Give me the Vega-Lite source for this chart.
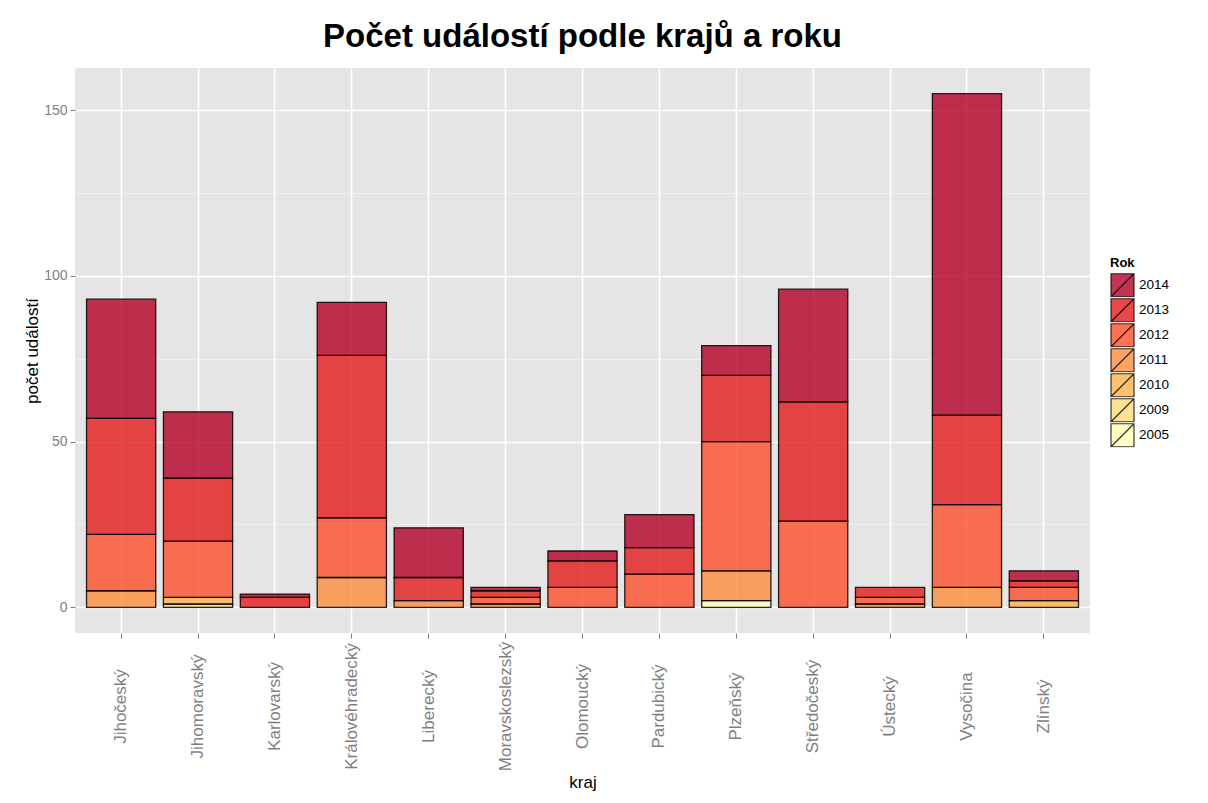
{
  "$schema": "https://vega.github.io/schema/vega-lite/v6.json",
  "width": 1015,
  "height": 565,
  "autosize": "none",
  "padding": {"left": 75, "top": 68, "right": 118, "bottom": 170},
  "background": "white",
  "title": {"text": "Počet událostí podle krajů a roku", "anchor": "middle", "baseline": "alphabetic", "offset": -12, "fontSize": 33, "fontWeight": "bold", "color": "black", "font": "Liberation Sans"},
  "data": {"values": [
    {"kraj": "Jihočeský", "Rok": 2011, "pocet": 5},
    {"kraj": "Jihočeský", "Rok": 2012, "pocet": 17},
    {"kraj": "Jihočeský", "Rok": 2013, "pocet": 35},
    {"kraj": "Jihočeský", "Rok": 2014, "pocet": 36},
    {"kraj": "Jihomoravský", "Rok": 2009, "pocet": 1},
    {"kraj": "Jihomoravský", "Rok": 2010, "pocet": 2},
    {"kraj": "Jihomoravský", "Rok": 2012, "pocet": 17},
    {"kraj": "Jihomoravský", "Rok": 2013, "pocet": 19},
    {"kraj": "Jihomoravský", "Rok": 2014, "pocet": 20},
    {"kraj": "Karlovarský", "Rok": 2013, "pocet": 3},
    {"kraj": "Karlovarský", "Rok": 2014, "pocet": 1},
    {"kraj": "Královéhradecký", "Rok": 2011, "pocet": 9},
    {"kraj": "Královéhradecký", "Rok": 2012, "pocet": 18},
    {"kraj": "Královéhradecký", "Rok": 2013, "pocet": 49},
    {"kraj": "Královéhradecký", "Rok": 2014, "pocet": 16},
    {"kraj": "Liberecký", "Rok": 2011, "pocet": 2},
    {"kraj": "Liberecký", "Rok": 2013, "pocet": 7},
    {"kraj": "Liberecký", "Rok": 2014, "pocet": 15},
    {"kraj": "Moravskoslezský", "Rok": 2011, "pocet": 1},
    {"kraj": "Moravskoslezský", "Rok": 2012, "pocet": 2},
    {"kraj": "Moravskoslezský", "Rok": 2013, "pocet": 2},
    {"kraj": "Moravskoslezský", "Rok": 2014, "pocet": 1},
    {"kraj": "Olomoucký", "Rok": 2012, "pocet": 6},
    {"kraj": "Olomoucký", "Rok": 2013, "pocet": 8},
    {"kraj": "Olomoucký", "Rok": 2014, "pocet": 3},
    {"kraj": "Pardubický", "Rok": 2012, "pocet": 10},
    {"kraj": "Pardubický", "Rok": 2013, "pocet": 8},
    {"kraj": "Pardubický", "Rok": 2014, "pocet": 10},
    {"kraj": "Plzeňský", "Rok": 2005, "pocet": 2},
    {"kraj": "Plzeňský", "Rok": 2011, "pocet": 9},
    {"kraj": "Plzeňský", "Rok": 2012, "pocet": 39},
    {"kraj": "Plzeňský", "Rok": 2013, "pocet": 20},
    {"kraj": "Plzeňský", "Rok": 2014, "pocet": 9},
    {"kraj": "Středočeský", "Rok": 2012, "pocet": 26},
    {"kraj": "Středočeský", "Rok": 2013, "pocet": 36},
    {"kraj": "Středočeský", "Rok": 2014, "pocet": 34},
    {"kraj": "Ústecký", "Rok": 2011, "pocet": 1},
    {"kraj": "Ústecký", "Rok": 2012, "pocet": 2},
    {"kraj": "Ústecký", "Rok": 2013, "pocet": 3},
    {"kraj": "Vysočina", "Rok": 2011, "pocet": 6},
    {"kraj": "Vysočina", "Rok": 2012, "pocet": 25},
    {"kraj": "Vysočina", "Rok": 2013, "pocet": 27},
    {"kraj": "Vysočina", "Rok": 2014, "pocet": 97},
    {"kraj": "Zlínský", "Rok": 2010, "pocet": 2},
    {"kraj": "Zlínský", "Rok": 2012, "pocet": 4},
    {"kraj": "Zlínský", "Rok": 2013, "pocet": 2},
    {"kraj": "Zlínský", "Rok": 2014, "pocet": 3}
  ]},
  "mark": {"type": "bar", "stroke": "black", "strokeWidth": 1.3, "strokeOpacity": 0.85, "fillOpacity": 0.8},
  "encoding": {
    "x": {
      "field": "kraj", "type": "nominal",
      "sort": ["Jihočeský", "Jihomoravský", "Karlovarský", "Královéhradecký", "Liberecký", "Moravskoslezský", "Olomoucký", "Pardubický", "Plzeňský", "Středočeský", "Ústecký", "Vysočina", "Zlínský"],
      "scale": {"paddingInner": 0.1, "paddingOuter": 0.15},
      "axis": {
        "title": "kraj", "titleFontSize": 17, "titleFontWeight": "normal", "titleColor": "black", "titlePadding": 4,
        "labelAngle": -90, "labelAlign": "center", "labelBaseline": "middle", "labelPadding": 68,
        "labelFontSize": 17, "labelColor": "#7F7F7F",
        "bandPosition": 0.5, "grid": true, "gridColor": "#FFFFFF", "gridWidth": 1.6,
        "domain": false, "tickColor": "#7F7F7F", "tickSize": 5
      }
    },
    "y": {
      "field": "pocet", "type": "quantitative", "stack": "zero",
      "scale": {"domain": [-7.75, 162.75], "nice": false, "zero": false},
      "axis": {
        "title": "počet událostí", "titleFontSize": 17, "titleFontWeight": "normal", "titleColor": "black", "titlePadding": 2,
        "values": [0, 25, 50, 75, 100, 125, 150],
        "labelExpr": "datum.value % 50 === 0 ? datum.label : ''",
        "labelFontSize": 14, "labelColor": "#7F7F7F", "labelPadding": 3,
        "gridColor": {"condition": {"test": "datum.value % 50 === 0", "value": "#FFFFFF"}, "value": "#F2F2F2"},
        "gridWidth": {"condition": {"test": "datum.value % 50 === 0", "value": 1.6}, "value": 0.8},
        "tickOpacity": {"condition": {"test": "datum.value % 50 === 0", "value": 1}, "value": 0},
        "domain": false, "tickColor": "#7F7F7F", "tickSize": 5
      }
    },
    "color": {
      "field": "Rok", "type": "ordinal",
      "scale": {"domain": [2014, 2013, 2012, 2011, 2010, 2009, 2005], "range": ["#b10026", "#e31a1c", "#fc4e2a", "#fd8d3c", "#feb24c", "#fed976", "#ffffb2"]},
      "legend": {
        "title": "Rok", "titleFontSize": 13, "titleFontWeight": "bold", "titleColor": "black", "titlePadding": 3,
        "labelFontSize": 13.5, "labelColor": "black", "labelOffset": 4,
        "symbolType": "M-1,-1H1V1H-1Z M-1,1L1,-1", "symbolSize": 529,
        "symbolStrokeColor": "black", "symbolStrokeWidth": 1.2,
        "rowPadding": 0, "clipHeight": 24.5, "orient": "none", "legendX": 1035, "legendY": 189,
        "encode": {"symbols": {"update": {"fillOpacity": {"value": 0.8}, "strokeOpacity": {"value": 0.8}}}}
      }
    },
    "order": {"field": "Rok", "type": "quantitative", "sort": "ascending"}
  },
  "config": {
    "view": {"fill": "#E5E5E5", "stroke": null},
    "font": "Liberation Sans"
  }
}
